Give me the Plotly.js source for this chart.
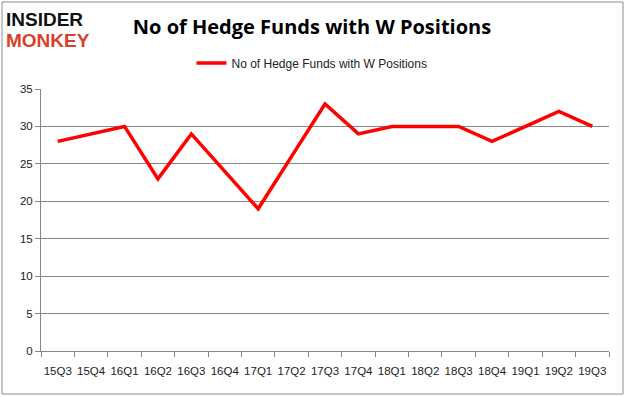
<!DOCTYPE html>
<html><head><meta charset="utf-8">
<script src="https://cdn.plot.ly/plotly-3.0.1.min.js"></script>
<style>html,body{margin:0;padding:0;background:#fff}#c{width:626px;height:397px}</style>
</head><body><div id="c"></div>
<script>
const quarters = ["15Q3","15Q4","16Q1","16Q2","16Q3","16Q4","17Q1","17Q2","17Q3","17Q4","18Q1","18Q2","18Q3","18Q4","19Q1","19Q2","19Q3"];
const funds = [28,29,30,23,29,24,19,26,33,29,30,30,30,28,30,32,30];
const seriesName = "No of Hedge Funds with W Positions";
const yTicks = [0,5,10,15,20,25,30,35];

const L=41, R=609, T=89, B=351;
const px = x => (x - L)/(R - L);
const py = y => (B - y)/(B - T);

const layout = {
  width:626, height:397,
  margin:{l:L, r:626-R, t:T, b:397-B},
  paper_bgcolor:'#fff', plot_bgcolor:'#fff',
  showlegend:true,
  legend:{orientation:'h', x:px(312), xanchor:'center', y:py(63), yanchor:'middle',
          font:{family:'Liberation Sans, Arial', size:12, color:'#222'}, bgcolor:'rgba(0,0,0,0)',
          itemwidth:30},
  xaxis:{type:'category', range:[-0.5,16.5], showgrid:false, showline:true, linecolor:'#868686', linewidth:1,
         ticks:'outside', tickson:'boundaries', ticklen:5, tickcolor:'#868686', tickangle:0,
         ticklabelstandoff:9,
         tickfont:{family:'Liberation Sans, Arial', size:11.5, color:'#222'}, fixedrange:true},
  yaxis:{range:[0,35], tickvals:yTicks, showgrid:true, gridcolor:'#868686', gridwidth:1,
         showline:true, linecolor:'#868686', ticks:'outside', ticklen:5, tickcolor:'#868686',
         zeroline:false, tickfont:{family:'Liberation Sans, Arial', size:11.5, color:'#222'}, fixedrange:true},
  title:{text:'<b>No of Hedge Funds with W Positions</b>', x:px(312), xanchor:'center', xref:'paper',
         y:1-27/397, yanchor:'middle', font:{family:'Open Sans, Liberation Sans', size:20, color:'#000'}},
  shapes:[{type:'rect', xref:'paper', yref:'paper', x0:px(2), x1:px(623), y0:py(394), y1:py(2),
           line:{color:'#8c8c8c', width:1}, fillcolor:'rgba(0,0,0,0)', layer:'below'}],
  annotations:[
    {text:'<b>INSIDER</b>', xref:'paper', yref:'paper', x:px(4), y:py(19), xanchor:'left', yanchor:'middle',
     showarrow:false, font:{family:'Liberation Sans, Arial', size:19, color:'#111'}},
    {text:'<b>MONKEY</b>', xref:'paper', yref:'paper', x:px(4), y:py(41), xanchor:'left', yanchor:'middle',
     showarrow:false, font:{family:'Liberation Sans, Arial', size:19, color:'#d7402b'}}
  ]
};

Plotly.newPlot('c', [{
  x:quarters, y:funds, type:'scatter', mode:'lines', name:seriesName,
  line:{color:'#ff0000', width:3.5}
}], layout, {displayModeBar:false, staticPlot:true});
</script></body></html>
